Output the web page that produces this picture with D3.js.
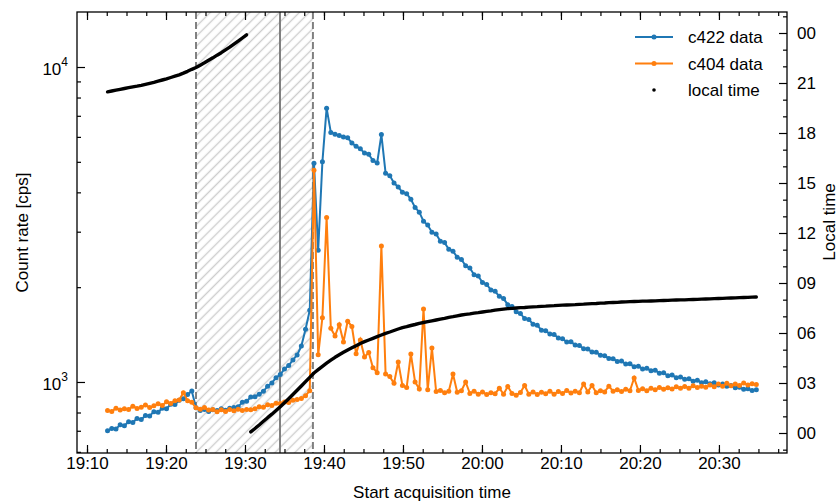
<!DOCTYPE html>
<html>
<head>
<meta charset="utf-8">
<script src="https://cdn.jsdelivr.net/npm/d3@7"></script>
<style>
  body { margin: 0; background: #fff; }
  svg { display: block; font-family: "Liberation Sans", Arial, sans-serif; }
</style>
</head>
<body>
<script>
// sample start times (32 s cadence)
const sampleTimes = [
  "19:12:36","19:13:08","19:13:40","19:14:12","19:14:44","19:15:16","19:15:48","19:16:20","19:16:52","19:17:24",
  "19:17:56","19:18:28","19:19:00","19:19:32","19:20:04","19:20:36","19:21:08","19:21:40","19:22:12","19:22:44",
  "19:23:16","19:23:48","19:24:20","19:24:52","19:25:24","19:25:56","19:26:28","19:27:00","19:27:32","19:28:04",
  "19:28:36","19:29:08","19:29:40","19:30:12","19:30:44","19:31:16","19:31:48","19:32:20","19:32:52","19:33:24",
  "19:33:56","19:34:28","19:35:00","19:35:32","19:36:04","19:36:36","19:37:08","19:37:40","19:38:12","19:38:44",
  "19:39:16","19:39:48","19:40:20","19:40:52","19:41:24","19:41:56","19:42:28","19:43:00","19:43:32","19:44:04",
  "19:44:36","19:45:08","19:45:40","19:46:12","19:46:44","19:47:16","19:47:48","19:48:20","19:48:52","19:49:24",
  "19:49:56","19:50:28","19:51:00","19:51:32","19:52:04","19:52:36","19:53:08","19:53:40","19:54:12","19:54:44",
  "19:55:16","19:55:48","19:56:20","19:56:52","19:57:24","19:57:56","19:58:28","19:59:00","19:59:32","20:00:04",
  "20:00:36","20:01:08","20:01:40","20:02:12","20:02:44","20:03:16","20:03:48","20:04:20","20:04:52","20:05:24",
  "20:05:56","20:06:28","20:07:00","20:07:32","20:08:04","20:08:36","20:09:08","20:09:40","20:10:12","20:10:44",
  "20:11:16","20:11:48","20:12:20","20:12:52","20:13:24","20:13:56","20:14:28","20:15:00","20:15:32","20:16:04",
  "20:16:36","20:17:08","20:17:40","20:18:12","20:18:44","20:19:16","20:19:48","20:20:20","20:20:52","20:21:24",
  "20:21:56","20:22:28","20:23:00","20:23:32","20:24:04","20:24:36","20:25:08","20:25:40","20:26:12","20:26:44",
  "20:27:16","20:27:48","20:28:20","20:28:52","20:29:24","20:29:56","20:30:28","20:31:00","20:31:32","20:32:04",
  "20:32:36","20:33:08","20:33:40","20:34:12","20:34:44"
]

const c422Rate = [
  700,712,709,731,726,748,744,766,760,783,
  780,805,801,826,822,850,848,875,884,912,
  936,828,812,818,806,816,812,822,813,826,
  830,835,862,868,896,897,915,934,970,993,
  1032,1056,1100,1128,1175,1218,1300,1470,1690,4950,
  2620,5000,7400,6200,6120,6060,6000,5960,5740,5600,
  5500,5330,5280,5050,4960,6100,4600,4520,4280,4160,
  4000,3960,3800,3580,3460,3240,3150,2990,2950,2800,
  2770,2640,2600,2490,2450,2340,2300,2190,2170,2070,
  2040,1960,1940,1870,1840,1760,1735,1670,1650,1590,
  1580,1525,1515,1460,1455,1420,1415,1380,1372,1340,
  1342,1310,1305,1275,1272,1245,1243,1215,1212,1188,
  1186,1162,1165,1140,1142,1118,1122,1100,1106,1085,
  1090,1066,1070,1047,1052,1032,1038,1020,1024,1006,
  1012,994,1001,987,994,979,985,969,975,958,
  963,948,952,940,945
]

const c404Rate = [
  812,806,826,815,822,818,838,824,832,845,
  830,840,853,842,866,855,872,876,925,872,
  862,828,820,830,815,818,804,816,806,818,
  810,820,812,818,816,822,834,832,846,842,
  856,855,864,861,875,880,886,905,938,4700,
  1220,1600,3330,1480,1400,1520,1340,1560,1500,1230,
  1360,1200,1240,1110,1070,2700,1060,1040,990,1157,
  975,960,1228,1000,950,1706,945,1282,932,940,
  925,935,1060,928,938,1000,920,935,915,930,
  912,925,918,955,915,968,920,908,926,975,
  915,930,912,928,918,935,915,932,920,940,
  922,935,925,985,930,975,925,938,930,970,
  935,945,932,948,938,1030,940,952,938,955,
  945,960,948,958,950,965,955,968,956,972,
  960,970,962,978,966,985,970,990,972,985,
  975,992,978,988,982
]

// local time in hours (wraps at 24)
const localHours = [
  20.47,20.52,20.57,20.62,20.67,20.72,20.77,20.81,20.86,20.92,
  20.98,21.04,21.11,21.18,21.25,21.33,21.41,21.49,21.59,21.70,
  21.82,21.93,22.07,22.21,22.36,22.51,22.67,22.82,22.99,23.15,
  23.33,23.51,23.70,23.89,0.07,0.27,0.48,0.70,0.92,1.13,
  1.35,1.57,1.81,2.06,2.31,2.56,2.82,3.08,3.34,3.60,
  3.80,4.00,4.19,4.37,4.54,4.69,4.84,4.98,5.11,5.24,
  5.37,5.48,5.58,5.68,5.78,5.88,5.98,6.06,6.15,6.24,
  6.32,6.38,6.45,6.51,6.58,6.63,6.68,6.73,6.78,6.83,
  6.88,6.94,6.98,7.03,7.08,7.12,7.15,7.19,7.22,7.26,
  7.30,7.33,7.37,7.40,7.43,7.46,7.48,7.50,7.52,7.53,
  7.55,7.57,7.58,7.60,7.61,7.63,7.64,7.66,7.67,7.68,
  7.69,7.70,7.72,7.73,7.75,7.76,7.77,7.79,7.80,7.82,
  7.83,7.84,7.86,7.87,7.88,7.89,7.90,7.91,7.91,7.92,
  7.93,7.94,7.95,7.96,7.97,7.98,7.99,7.99,8.00,8.01,
  8.02,8.03,8.04,8.05,8.06,8.07,8.08,8.09,8.10,8.11,
  8.12,8.13,8.14,8.15,8.16
]

const spanTimes = ["19:23:48", "19:38:36"]
const lineTimes = ["19:23:48", "19:34:26", "19:38:36"]
const timeTicks = ["19:10","19:20","19:30","19:40","19:50","20:00","20:10","20:20","20:30"]
const rateTicks = [1000, 10000]
const rateMinor = [600,700,800,900,2000,3000,4000,5000,6000,7000,8000,9000]
const hourTicks = [0,3,6,9,12,15,18,21,24]
const legendLabels = ["c422 data", "c404 data", "local time"]

const parseT = d3.timeParse("%H:%M:%S")
const parseHM = d3.timeParse("%H:%M")

const w = 840
const h = 503
const pLeft = 77, pRight = 787, pTop = 12, pBottom = 453
const blue = "#1f77b4", orange = "#ff7f0e"

const x = d3.scaleTime()
  .domain([parseT("19:08:44"), parseT("20:38:37")])
  .range([pLeft, pRight])
const y = d3.scaleLog()
  .domain([595, 14950])
  .range([pBottom, pTop])
const yLocal = d3.scaleLinear()
  .domain([-1.2, 25.26])
  .range([pBottom, pTop])

const svg = d3.select("body")
  .append("svg")
  .attr("width", w)
  .attr("height", h)

const defs = svg.append("defs")
defs.append("clipPath").attr("id", "plot")
  .append("rect")
  .attr("x", pLeft).attr("y", pTop)
  .attr("width", pRight - pLeft).attr("height", pBottom - pTop)

const pat = defs.append("pattern")
  .attr("id", "hatch")
  .attr("patternUnits", "userSpaceOnUse")
  .attr("width", 7).attr("height", 7)
  .attr("patternTransform", "rotate(45)")
pat.append("line")
  .attr("x1", 3.5).attr("y1", -1).attr("x2", 3.5).attr("y2", 8)
  .attr("stroke", "#cdcdcd").attr("stroke-width", 1.4)

const plot = svg.append("g").attr("clip-path", "url(#plot)")

const x0 = x(parseT(spanTimes[0])), x1 = x(parseT(spanTimes[1]))
plot.append("rect")
  .attr("x", x0).attr("y", pTop)
  .attr("width", x1 - x0).attr("height", pBottom - pTop)
  .attr("fill", "url(#hatch)")

lineTimes.forEach((t, i) => {
  plot.append("line")
    .attr("x1", x(parseT(t))).attr("x2", x(parseT(t)))
    .attr("y1", pTop).attr("y2", pBottom)
    .attr("stroke", "#808080")
    .attr("stroke-width", 2)
    .attr("stroke-dasharray", i == 1 ? null : "7,3")
})

const rows = sampleTimes.map((t, i) => ({
  t: parseT(t), a: c422Rate[i], b: c404Rate[i], lt: localHours[i]
}))

function drawSeries(key, color) {
  const line = d3.line().x(d => x(d.t)).y(d => y(d[key]))
  plot.append("path")
    .datum(rows)
    .attr("d", line)
    .attr("fill", "none")
    .attr("stroke", color)
    .attr("stroke-width", 2)
  plot.append("g").selectAll("circle")
    .data(rows)
    .enter()
    .append("circle")
    .attr("cx", d => x(d.t))
    .attr("cy", d => y(d[key]))
    .attr("r", 2.5)
    .attr("fill", color)
}
drawSeries("a", blue)
drawSeries("b", orange)

// local time, broken where it wraps past midnight
let segments = [[rows[0]]]
for (let i = 1; i < rows.length; i++) {
  if (rows[i].lt < rows[i - 1].lt - 12) segments.push([])
  segments[segments.length - 1].push(rows[i])
}
const ltLine = d3.line().x(d => x(d.t)).y(d => yLocal(d.lt))
segments.forEach(seg => {
  plot.append("path")
    .datum(seg)
    .attr("d", ltLine)
    .attr("fill", "none")
    .attr("stroke", "#000")
    .attr("stroke-width", 3.4)
    .attr("stroke-linecap", "round")
    .attr("stroke-linejoin", "round")
})

// axes
function styleAxis(g) {
  g.select(".domain").remove()
  g.selectAll(".tick line").attr("stroke", "#000").attr("stroke-width", 1.2)
  g.selectAll("text").attr("fill", "#000")
  g.attr("font-size", 17).attr("font-family", "Liberation Sans, Arial, sans-serif")
}

const xMajor = timeTicks.map(parseHM)
const xMinor = d3.range(0, 36).map(k => new Date(+parseHM("19:10") + k * 150000))

svg.append("g")
  .attr("transform", "translate(0," + pBottom + ")")
  .call(d3.axisBottom(x).tickValues(xMinor).tickSize(-4).tickSizeOuter(0).tickFormat(""))
  .call(styleAxis)
svg.append("g")
  .attr("transform", "translate(0," + pBottom + ")")
  .call(d3.axisBottom(x).tickValues(xMajor).tickSize(-8).tickSizeOuter(0).tickPadding(4)
    .tickFormat(d3.timeFormat("%H:%M")))
  .call(styleAxis)
svg.append("g")
  .attr("transform", "translate(0," + pTop + ")")
  .call(d3.axisTop(x).tickValues(xMinor).tickSize(-4).tickSizeOuter(0).tickFormat(""))
  .call(styleAxis)
svg.append("g")
  .attr("transform", "translate(0," + pTop + ")")
  .call(d3.axisTop(x).tickValues(xMajor).tickSize(-8).tickSizeOuter(0).tickFormat(""))
  .call(styleAxis)

svg.append("g")
  .attr("transform", "translate(" + pLeft + ",0)")
  .call(d3.axisLeft(y).tickValues(rateMinor).tickSize(-4).tickSizeOuter(0).tickFormat(""))
  .call(styleAxis)
svg.append("g")
  .attr("transform", "translate(" + pLeft + ",0)")
  .call(d3.axisLeft(y).tickValues(rateTicks).tickSize(-8).tickSizeOuter(0).tickFormat(""))
  .call(styleAxis)
rateTicks.forEach(v => {
  const t = svg.append("text")
    .attr("x", pLeft - 9)
    .attr("y", y(v) + 8)
    .attr("text-anchor", "end")
    .attr("font-size", 17)
    .text("10")
  t.append("tspan")
    .attr("dy", -9)
    .attr("font-size", 12)
    .text(Math.round(Math.log10(v)))
})

const hourMinor = d3.range(-1, 26).filter(d => d % 3 != 0)
svg.append("g")
  .attr("transform", "translate(" + pRight + ",0)")
  .call(d3.axisRight(yLocal).tickValues(hourMinor).tickSize(-4).tickSizeOuter(0).tickFormat(""))
  .call(styleAxis)
svg.append("g")
  .attr("transform", "translate(" + pRight + ",0)")
  .call(d3.axisRight(yLocal).tickValues(hourTicks).tickSize(-8).tickSizeOuter(0).tickPadding(10)
    .tickFormat(d => String(d % 24).padStart(2, "0")))
  .call(styleAxis)

svg.append("rect")
  .attr("x", pLeft).attr("y", pTop)
  .attr("width", pRight - pLeft).attr("height", pBottom - pTop)
  .attr("fill", "none")
  .attr("stroke", "#000")
  .attr("stroke-width", 1.3)

// axis titles
svg.append("text")
  .attr("x", (pLeft + pRight) / 2)
  .attr("y", 498)
  .attr("text-anchor", "middle")
  .attr("font-size", 17)
  .text("Start acquisition time")
svg.append("text")
  .attr("transform", "translate(28," + (pTop + pBottom) / 2 + ") rotate(-90)")
  .attr("text-anchor", "middle")
  .attr("font-size", 17)
  .text("Count rate [cps]")
svg.append("text")
  .attr("transform", "translate(835,222) rotate(-90)")
  .attr("text-anchor", "middle")
  .attr("font-size", 17)
  .text("Local time")

// legend
const legendColors = [blue, orange, "#000"]
legendLabels.forEach((label, i) => {
  const ly = 37 + i * 26.5
  if (i < 2) {
    svg.append("line")
      .attr("x1", 635).attr("x2", 673)
      .attr("y1", ly).attr("y2", ly)
      .attr("stroke", legendColors[i])
      .attr("stroke-width", 2)
  }
  svg.append("circle")
    .attr("cx", 654).attr("cy", ly)
    .attr("r", i < 2 ? 2.5 : 1.8)
    .attr("fill", legendColors[i])
  svg.append("text")
    .attr("x", 688)
    .attr("y", ly + 6)
    .attr("font-size", 17)
    .text(label)
})
</script>
</body>
</html>
